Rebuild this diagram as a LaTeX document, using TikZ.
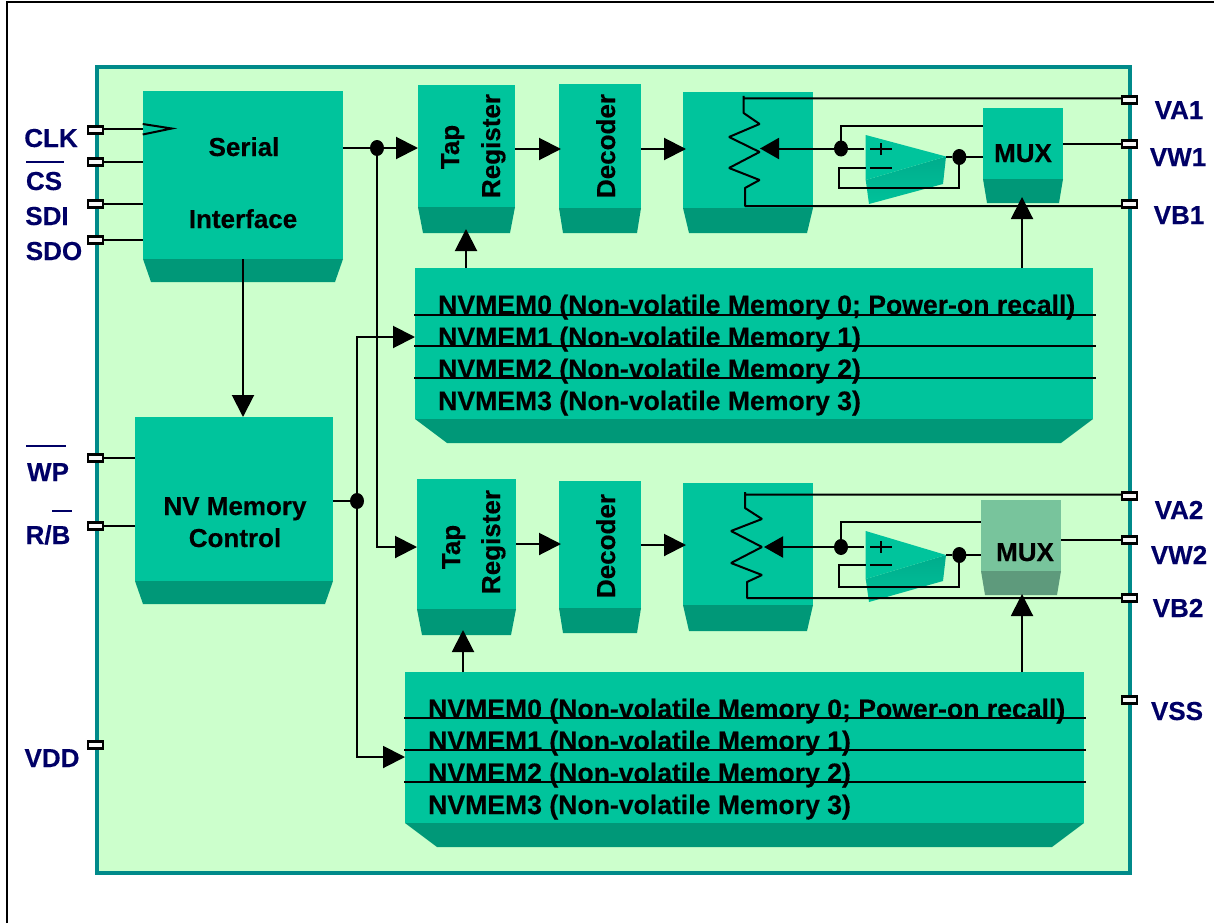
\documentclass[tikz,border=0pt]{standalone}
\usepackage{fontspec}
\setmainfont[BoldFeatures={FakeBold=0.35}]{Liberation Sans}
\usetikzlibrary{arrows.meta,fit,calc,shapes.geometric}
\definecolor{facec}{HTML}{00C49C}
\definecolor{skirtc}{HTML}{009878}
\definecolor{ampA}{HTML}{00AC8C}
\definecolor{ampB}{HTML}{00C29A}
\definecolor{muxface}{HTML}{78C49C}
\definecolor{muxskirt}{HTML}{5E9A7C}
\definecolor{panelc}{HTML}{CCFFCC}
\definecolor{panelb}{HTML}{008A8A}
\definecolor{navy}{HTML}{000066}
\newcommand{\block}[7]{% name x1 y1 x2 y2 y3 inset
  \fill[skirtc] (#2,#5)--(#4,#5)--(#4-#7,#6)--(#2+#7,#6)--cycle;
  \coordinate (#1a) at (#2,#3); \coordinate (#1b) at (#4,#5);
  \node[fill=facec,inner sep=0pt,outer sep=0pt,fit={(#1a)(#1b)}] (#1) {};}
\newcommand{\muxblock}[7]{%
  \fill[muxskirt] (#2,#5)--(#4,#5)--(#4-#7,#6)--(#2+#7,#6)--cycle;
  \coordinate (#1a) at (#2,#3); \coordinate (#1b) at (#4,#5);
  \node[fill=muxface,inner sep=0pt,outer sep=0pt,fit={(#1a)(#1b)}] (#1) {};}
\tikzset{
  x=1pt,y=-1pt,
  wire/.style={line width=2pt,black},
  arr/.style={wire,-{Triangle[length=22pt,width=22pt,sep=0pt]}},
  arrs/.style={wire,-{Triangle[length=19pt,width=21pt,sep=0pt]}},
  pin/.style={draw=black,fill=white!94!gray,line width=2.4pt,minimum width=15pt,minimum height=7pt,inner sep=0pt,outer sep=0pt},
  dot/.style={ellipse,fill=black,inner sep=0pt,minimum width=14pt,minimum height=16pt,outer sep=0pt},
  txt/.style={font=\fontsize{26}{26}\selectfont\bfseries,inner sep=0pt,anchor=base},
  memtxt/.style={font=\fontsize{26.6}{27}\selectfont\bfseries,inner sep=0pt,anchor=base west},
  pinlabel/.style={txt,text=navy},
  barline/.style={line width=2pt,navy},
}
\begin{document}
\begin{tikzpicture}
\useasboundingbox (0,0) rectangle (1214,923);
\fill[white] (0,0) rectangle (1214,923);
\draw[line width=2pt,black] (7,923)--(7,2)--(1214,2);
\draw[fill=panelc,draw=panelb,line width=4.5pt] (97,67) rectangle (1130,873);

% blocks
\block{ser}{143}{91}{343}{259}{282}{8}
\block{nvc}{135}{417}{333}{581}{604}{8}
\block{tapa}{418}{85}{515}{207}{233}{5}
\block{deca}{559}{84}{641}{208}{233}{4}
\block{pota}{683}{92}{813}{208}{233}{6}
\block{muxa}{983}{108}{1063}{179}{203}{4}
\block{mema}{415}{268}{1093}{419}{443}{32}
\block{tapb}{417}{479}{516}{609}{635}{5}
\block{decb}{559}{481}{641}{608}{633}{4}
\block{potb}{683}{483}{813}{605}{631}{6}
\muxblock{muxb}{981}{500}{1061}{571}{595}{4}
\block{memb}{405}{672}{1084}{823}{847}{32}

% op amps
\shade[top color=ampA,bottom color=ampB] (865.7,180)--(946,156.5)--(943,184)--(869,204)--cycle;
\fill[facec] (865.7,135)--(946,156.5)--(865.7,180)--cycle;
\shade[top color=ampA,bottom color=ampB] (865.7,579)--(946,555)--(943,581)--(869,602)--cycle;
\fill[facec] (865.7,531)--(946,555)--(865.7,579)--cycle;

% pins
\node[pin] (clkp) at (95.3,130) {};
\node[pin] (csp) at (95.3,162) {};
\node[pin] (sdip) at (95.3,204) {};
\node[pin] (sdop) at (95.3,240) {};
\node[pin] (wpp) at (95.3,458) {};
\node[pin] (rbp) at (95.3,526) {};
\node[pin] (vddp) at (95.3,745) {};
\node[pin] (vaa) at (1129.5,100) {};
\node[pin] (vwa) at (1129.5,144) {};
\node[pin] (vba) at (1129.5,204) {};
\node[pin] (vab) at (1129.5,496) {};
\node[pin] (vwb) at (1129.5,540) {};
\node[pin] (vbb) at (1129.5,598) {};
\node[pin] (vssp) at (1129.5,700) {};

% pin labels
\node[pinlabel] (clkl) at (51,147) {CLK};
\node[pinlabel] (csl) at (44,190) {CS};
\node[pinlabel] (sdil) at (47,225) {SDI};
\node[pinlabel] (sdol) at (54,260) {SDO};
\node[pinlabel] (wpl) at (48,481) {WP};
\node[pinlabel] (rbl) at (48,544) {R/B};
\node[pinlabel] (vddl) at (52,767) {VDD};
\node[pinlabel] (val) at (1179,119) {VA1};
\node[pinlabel] (vwl) at (1178,166) {VW1};
\node[pinlabel] (vbl) at (1179,224) {VB1};
\node[pinlabel] (vaml) at (1179,519) {VA2};
\node[pinlabel] (vwml) at (1179,564) {VW2};
\node[pinlabel] (vbml) at (1178,617) {VB2};
\node[pinlabel] (vssl) at (1177,720) {VSS};
\draw[barline] (26,162)--(64,162);
\draw[barline] (26,446)--(66,446);
\draw[barline] (52,511)--(72,511);

% block texts
\node[txt] (t1) at (244,156) {Serial};
\node[txt] (t2) at (243,228) {Interface};
\node[txt] (t3) at (235,515) {NV Memory};
\node[txt] (t4) at (235,547) {Control};
\node[txt,rotate=90] (t5) at (459,147) {Tap};
\node[txt,rotate=90] (t6) at (500,146) {Register};
\node[txt,rotate=90] (t7) at (615,146) {Decoder};
\node[txt,rotate=90] (t8) at (460,547) {Tap};
\node[txt,rotate=90] (t9) at (500,542) {Register};
\node[txt,rotate=90] (t10) at (615,546) {Decoder};
\node[txt] (t11) at (1023,162) {MUX};
\node[txt] (t12) at (1025,561) {MUX};

\node[memtxt] (m0) at (438,314) {NVMEM0 (Non-volatile Memory 0; Power-on recall)};
\node[memtxt] (m1) at (438,346) {NVMEM1 (Non-volatile Memory 1)};
\node[memtxt] (m2) at (438,378) {NVMEM2 (Non-volatile Memory 2)};
\node[memtxt] (m3) at (438,410) {NVMEM3 (Non-volatile Memory 3)};
\node[memtxt] (n0) at (428,718) {NVMEM0 (Non-volatile Memory 0; Power-on recall)};
\node[memtxt] (n1) at (428,750) {NVMEM1 (Non-volatile Memory 1)};
\node[memtxt] (n2) at (428,782) {NVMEM2 (Non-volatile Memory 2)};
\node[memtxt] (n3) at (428,814) {NVMEM3 (Non-volatile Memory 3)};

% memory lines
\foreach \yy in {315,346,378} \draw[wire] (414,\yy)--(1096,\yy);
\foreach \yy in {718,750,782} \draw[wire] (404,\yy)--(1086,\yy);

% left pin wires
\draw[wire] (clkp.east |- 0,128.5) -- (ser.west |- 0,128.5);
\draw[wire] (csp.east) -- (csp.east -| ser.west);
\draw[wire] (sdip.east) -- (sdip.east -| ser.west);
\draw[wire] (sdop.east) -- (sdop.east -| ser.west);
\draw[wire] (wpp.east) -- (wpp.east -| nvc.west);
\draw[wire] (rbp.east) -- (rbp.east -| nvc.west);
\draw[wire] (142.7,124)--(171.7,128.5)--(142.7,134.5);

% serial output
\node[dot] (da) at (377,148) {};
\draw[arr] (ser.east |- da) -- (tapa.west |- da);
\draw[arr] (da) |- (tapb.west |- 0,547);
\draw[arr] (243,259) -- (243,417);
% nv control output
\node[dot] (db) at (357,501) {};
\draw[wire] (nvc.east |- db) -- (db);
\draw[arr] (db) |- (mema.west |- 0,337);
\draw[arr] (db) |- (memb.west |- 0,757);

% chain arrows
\draw[arr] (tapa.east |- 0,149) -- (561,149);
\draw[arr] (deca.east |- 0,149) -- (686,149);
\draw[arr] (tapb.east |- 0,544) -- (561,544);
\draw[arr] (decb.east |- 0,545) -- (686,545);
% memory up arrows
\draw[arr] (466,268) -- (466,229);
\draw[arr] (463,672) -- (463,630);
\draw[arr] (1022,268) -- (1022,197);
\draw[arr] (1022,672) -- (1022,594);

% pot 1
\draw[wire,line join=bevel] (vaa.west |- 0,98.5) -- (743.6,98.5) -- (743.6,96) -- (743.6,113) -- (759.6,124) -- (729,137) -- (759.6,152) -- (729,168) -- (759.6,180) -- (745,188) -- (745,206) -- (vba.west |- 0,206);
\node[dot] (wa) at (841,148.5) {};
\node[dot] (oa) at (959.3,157) {};
\draw[arrs] (wa) -- (760,148.5);
\draw[wire] (wa) -- (864,148.5);
\draw[wire] (wa) |- (muxa.west |- 0,126);
\draw[wire] (946,157) -- (oa) -- (muxa.west |- oa);
\draw[wire] (865.7,168.3) -- (839,168.3) -- (839,187.7) -- (959.3,187.7) -- (oa);
\draw[wire] (870,168.3)--(892,168.3);
\draw[wire] (870,148.7)--(892,148.7) (881,143)--(881,155);
\draw[wire] (muxa.east |- vwa) -- (vwa.west);

% pot 2
\draw[wire,line join=bevel] (vab.west |- 0,494.5) -- (745,494.5) -- (745,492) -- (745,508) -- (762,519) -- (731,531) -- (762,547) -- (731,563) -- (762,575) -- (747,582) -- (747,598) -- (vbb.west);
\node[dot] (wb) at (841,547) {};
\node[dot] (ob) at (959.3,555) {};
\draw[arrs] (wb) -- (764,547);
\draw[wire] (wb) -- (864,547);
\draw[wire] (wb) |- (muxb.west |- 0,522);
\draw[wire] (946,555) -- (ob) -- (muxb.west |- ob);
\draw[wire] (865.7,565) -- (839,565) -- (839,587) -- (959.3,587) -- (ob);
\draw[wire] (870,565)--(892,565);
\draw[wire] (870,547)--(892,547) (881,541)--(881,553);
\draw[wire] (muxb.east |- vwb) -- (vwb.west);
\end{tikzpicture}
\end{document}
